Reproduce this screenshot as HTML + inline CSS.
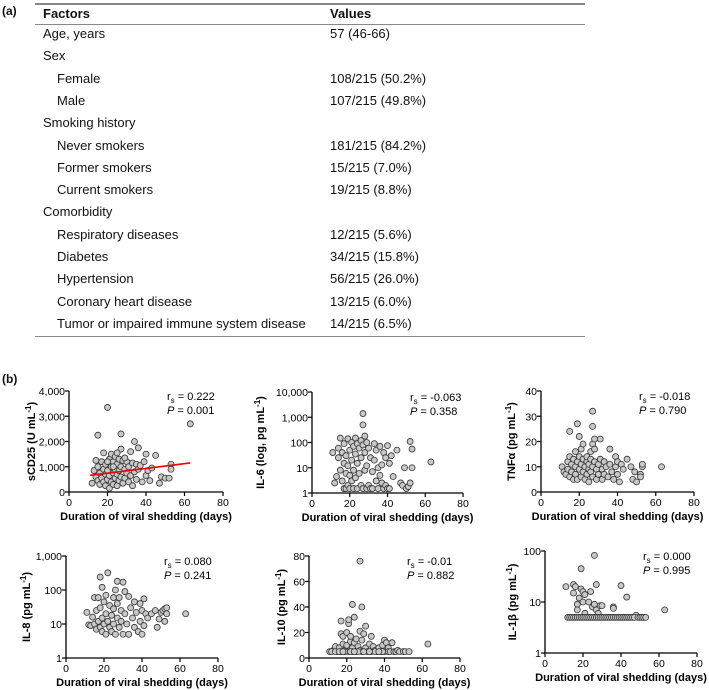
<!DOCTYPE html>
<html><head><meta charset="utf-8">
<style>
body{margin:0;width:709px;height:690px;background:#fff;font-family:"Liberation Sans",Arial,sans-serif;position:relative;overflow:hidden}
.t{position:absolute;font-size:13px;color:#111;white-space:nowrap;line-height:18px}
.hl{position:absolute;left:35px;width:550px;background:#888}
svg{position:absolute;left:0;top:0}
</style></head><body>
<div class="t" style="left:2px;top:2px;font-size:12px;font-weight:bold">(a)</div>
<div class="hl" style="top:3px;height:2px"></div>
<div class="t" style="left:43px;top:5px;font-weight:bold">Factors</div>
<div class="t" style="left:330px;top:5px;font-weight:bold">Values</div>
<div class="hl" style="top:24px;height:1px"></div>
<div id="rows"></div>
<div class="hl" style="top:336px;height:1px"></div>
<div class="t" style="left:2px;top:370px;font-size:12px;font-weight:bold">(b)</div>
<svg id="s" width="709" height="690"></svg>
<script>
const rowFactors=["Age, years","Sex","Female","Male","Smoking history","Never smokers","Former smokers","Current smokers","Comorbidity","Respiratory diseases","Diabetes","Hypertension","Coronary heart disease","Tumor or impaired immune system disease"];
const rowValues=["57 (46-66)","","108/215 (50.2%)","107/215 (49.8%)","","181/215 (84.2%)","15/215 (7.0%)","19/215 (8.8%)","","12/215 (5.6%)","34/215 (15.8%)","56/215 (26.0%)","13/215 (6.0%)","14/215 (6.5%)"];
const rowIndent=[0,0,1,1,0,1,1,1,0,1,1,1,1,1];

const p1Days=[12,13,14,14,15,15,16,16,17,17,18,18,18,19,19,19,20,20,20,21,21,21,22,22,22,23,23,23,24,24,24,25,25,25,26,26,26,27,27,27,27,28,28,29,29,30,30,31,31,32,32,33,33,34,34,35,35,36,36,37,38,39,40,40,41,42,43,45,47,48,50,52,53,53,63,15,25,20,23,29];
const p1Vals=[350,850,1250,600,450,1000,750,300,1200,550,900,400,1550,700,250,1100,3350,850,500,1300,650,150,1000,400,1500,750,1200,300,900,550,1400,1100,700,250,1300,850,450,2300,1700,1000,600,1250,350,900,550,1200,750,400,1000,1600,650,250,1150,2000,800,1100,500,1750,900,1050,400,1200,1500,650,850,450,950,1450,350,600,550,550,1100,900,2700,2250,1550,1200,1000,1350];
const p2Days=[11,12,13,14,14,15,15,16,16,17,17,17,18,18,18,19,19,19,20,20,20,21,21,21,22,22,22,23,23,23,24,24,24,25,25,26,26,26,27,27,27,27,28,28,28,29,29,29,30,30,31,31,32,32,33,33,34,34,35,35,36,36,37,37,38,38,39,39,40,40,41,41,42,43,45,47,48,49,50,51,52,52,53,53,63];
const p2Vals=[40,2.5,4.5,60,25,8,150,40,3,15,90,1.5,30,6,1.5,140,12,2,50,5,1.5,100,20,3,70,8,1.5,150,35,4,90,15,1.5,60,6,120,25,2,1400,500,80,1.5,180,40,8,100,12,1.5,60,2,25,1.5,7,1.5,90,20,50,3,10,1.5,70,5,13,2.5,40,1.5,25,2,75,1.5,15,1.5,30,4.5,50,2.5,2,10,1.5,1.8,110,2.5,55,10,17];
const p3Days=[11,12,13,14,14,15,15,15,16,16,17,17,18,18,18,19,19,19,20,20,20,21,21,21,22,22,22,23,23,24,24,24,25,25,25,26,26,26,27,27,27,27,27,28,28,28,29,29,30,30,31,31,32,32,33,33,34,35,36,36,37,38,39,39,40,40,41,42,43,45,47,48,49,50,52,52,53,53,63];
const p3Vals=[10,8,7,12,9,24,14,6,11,8,5,13,16,10,7,27,12,5,22,9,14,17,11,6,19,8,13,10,5,12,7,14,9,11,4,16,8,13,32,26,19,10,6,21,17,12,9,5,11,7,21,13,9,5,12,7,10,6,17,11,8,5,14,10,12,7,4,11,9,13,10,5,8,4,7,6,10,11,10];
const p4Days=[11,12,13,14,15,15,16,16,17,17,18,18,18,19,19,19,20,20,21,21,21,22,22,23,23,24,24,25,25,25,26,26,27,27,27,28,28,29,29,30,30,31,31,32,33,33,34,35,36,36,37,38,39,39,40,40,41,41,42,43,45,47,48,49,50,51,52,52,53,53,63];
const p4Vals=[22,9.5,9,16,60,10,7,25,60,12,240,30,8,120,15,6,45,10,70,20,5,320,12,35,8,18,6,60,28,10,100,5,180,40,15,60,8,25,12,170,5,90,20,10,65,5,30,15,45,8,22,6,40,12,5,25,55,9,20,15,20,25,8,14,22,25,12,28,30,20,20];
const p5Days=[11,13,14,15,16,17,17,17,18,18,19,20,20,21,21,21,22,22,23,23,23,24,24,25,25,26,27,27,27,28,28,28,29,30,30,31,32,33,33,34,35,36,37,38,39,40,40,41,42,42,43,44,45,46,47,48,50,51,53,63,19,26,29,35,39,12,14,16,18,22,24,32,37];
const p5Vals=[5,6,9,5,8,29,19,5,11,17,6,10,20,27,30,5,13,17,42,8,5,32,12,5,15,9,76,21,6,40,14,5,19,25,8,5,11,17,5,9,6,5,8,5,10,14,5,12,8,5,5,12,5,5,6,5,5,5,5,11,5,5,5,5,5,5,5,5,5,5,5,5,5];
const p6Days=[11,15,15,16,17,17,18,19,19,20,20,21,21,23,24,25,26,26,27,27,28,29,30,36,36,40,43,48,63,12,13,14,15,16,17,18,19,20,21,22,23,24,25,26,27,28,29,30,31,32,33,34,35,36,37,38,39,40,41,42,43,44,45,46,47,49,50,51,52,53];
const p6Vals=[20,22,15,20,9,7,12,45,18,10,16,14,6,10,16,8,82,9,22,7,6,8.5,8.5,8,7.5,21,12.5,5.5,7,5,5,5,5,5,5,5,5,5,5,5,5,5,5,5,5,5,5,5,5,5,5,5,5,5,5,5,5,5,5,5,5,5,5,5,5,5,5,5,5,5];
const p1Fit=[[11,660],[63,1150]];

const rowsEl=document.getElementById('rows');
rowFactors.forEach((f,i)=>{
  const top=25+i*22.3;
  const a=document.createElement('div');a.className='t';a.style.left=(rowIndent[i]?57:43)+'px';a.style.top=top+'px';a.textContent=f;
  
  
  rowsEl.appendChild(a);
  if(rowValues[i]){const b=document.createElement('div');b.className='t';b.style.left='330px';b.style.top=top+'px';b.textContent=rowValues[i];
  
  
  rowsEl.appendChild(b);}
});

const NS='http://www.w3.org/2000/svg';
const svg=document.getElementById('s');
function el(t,at,p){const e=document.createElementNS(NS,t);for(const k in at)e.setAttribute(k,at[k]);(p||svg).appendChild(e);return e;}
function fmt(v){return v.toLocaleString('en-US');}
function plot(c,days,vals,fit){
  const g=el('g',{});
  
  
  const xs=d=>c.x0+(c.x1-c.x0)*d/80;
  const ys=c.log?(v=>c.yb-(c.yb-c.yt)*Math.log10(v)/Math.log10(c.ymax)):(v=>c.yb-(c.yb-c.yt)*v/c.ymax);
  el('line',{x1:c.x0,y1:c.yt,x2:c.x0,y2:c.yb,stroke:'#000','stroke-width':1.3},g);
  el('line',{x1:c.x0,y1:c.yb,x2:c.x1,y2:c.yb,stroke:'#000','stroke-width':1.3},g);
  [0,20,40,60,80].forEach(t=>{const x=xs(t);el('line',{x1:x,y1:c.yb,x2:x,y2:c.yb+4,stroke:'#000','stroke-width':1.2},g);
    const tx=el('text',{x:x,y:c.yb+14,'text-anchor':'middle','font-size':10.5},g);tx.textContent=t;});
  c.yt2.forEach(t=>{const y=ys(t);el('line',{x1:c.x0-4,y1:y,x2:c.x0,y2:y,stroke:'#000','stroke-width':1.2},g);
    const tx=el('text',{x:c.x0-4,y:y+4,'text-anchor':'end','font-size':10.5},g);tx.textContent=fmt(t);});
  const xt=el('text',{x:(c.x0+c.x1)/2,y:c.yb+28,'text-anchor':'middle','font-size':11,'font-weight':'bold'},g);xt.textContent='Duration of viral shedding (days)';
  const yc=(c.yt+c.yb)/2, yx=c.x0-c.ytoff;
  const yt=el('text',{x:yx,y:yc,'text-anchor':'middle','font-size':11,'font-weight':'bold',transform:`rotate(-90 ${yx} ${yc})`},g);
  yt.innerHTML=c.ytitle+'<tspan dy="-4" font-size="8">-1</tspan><tspan dy="4">)</tspan>';
  days.forEach((d,i)=>{const m=el('circle',{cx:xs(d),cy:ys(vals[i]),r:3,fill:'#c8c8c8',stroke:'#333','stroke-width':0.8},g);
    
    });
  if(fit){const l=el('line',{x1:xs(fit[0][0]),y1:ys(fit[0][1]),x2:xs(fit[1][0]),y2:ys(fit[1][1]),stroke:'#e00','stroke-width':1.6},g);
    
    }
  const a=el('text',{x:c.x0+98,y:c.yt+9,'font-size':11},g);a.innerHTML='r<tspan font-size="8" dy="3">s</tspan><tspan dy="-3"> = '+c.rs+'</tspan>';
  const b=el('text',{x:c.x0+98,y:c.yt+23,'font-size':11},g);b.innerHTML='<tspan font-style="italic">P</tspan> = '+c.p;
}
plot({name:'scd25-plot',x0:69,x1:223,yt:391,yb:492,ymax:4000,yt2:[0,1000,2000,3000,4000],ytitle:'sCD25 (U mL',ytoff:34,rs:'0.222',p:'0.001'},p1Days,p1Vals,p1Fit);
plot({name:'il6-plot',x0:312,x1:463,yt:392,yb:493,log:true,ymax:10000,yt2:[1,10,100,1000,10000],ytitle:'IL-6 (log, pg mL',ytoff:48,rs:'-0.063',p:'0.358'},p2Days,p2Vals);
plot({name:'tnfa-plot',x0:541,x1:694,yt:391,yb:492,ymax:40,yt2:[0,10,20,30,40],ytitle:'TNFα (pg mL',ytoff:26,rs:'-0.018',p:'0.790'},p3Days,p3Vals);
plot({name:'il8-plot',x0:66,x1:218,yt:556,yb:658,log:true,ymax:1000,yt2:[1,10,100,1000],ytitle:'IL-8 (pg mL',ytoff:36,rs:'0.080',p:'0.241'},p4Days,p4Vals);
plot({name:'il10-plot',x0:309,x1:460,yt:556,yb:658,ymax:80,yt2:[0,20,40,60,80],ytitle:'IL-10 (pg mL',ytoff:24,rs:'-0.01',p:'0.882'},p5Days,p5Vals);
plot({name:'il1b-plot',x0:545,x1:697,yt:551,yb:653,log:true,ymax:100,yt2:[1,10,100],ytitle:'IL-1β (pg mL',ytoff:29,rs:'0.000',p:'0.995'},p6Days,p6Vals);
</script>
</body></html>
